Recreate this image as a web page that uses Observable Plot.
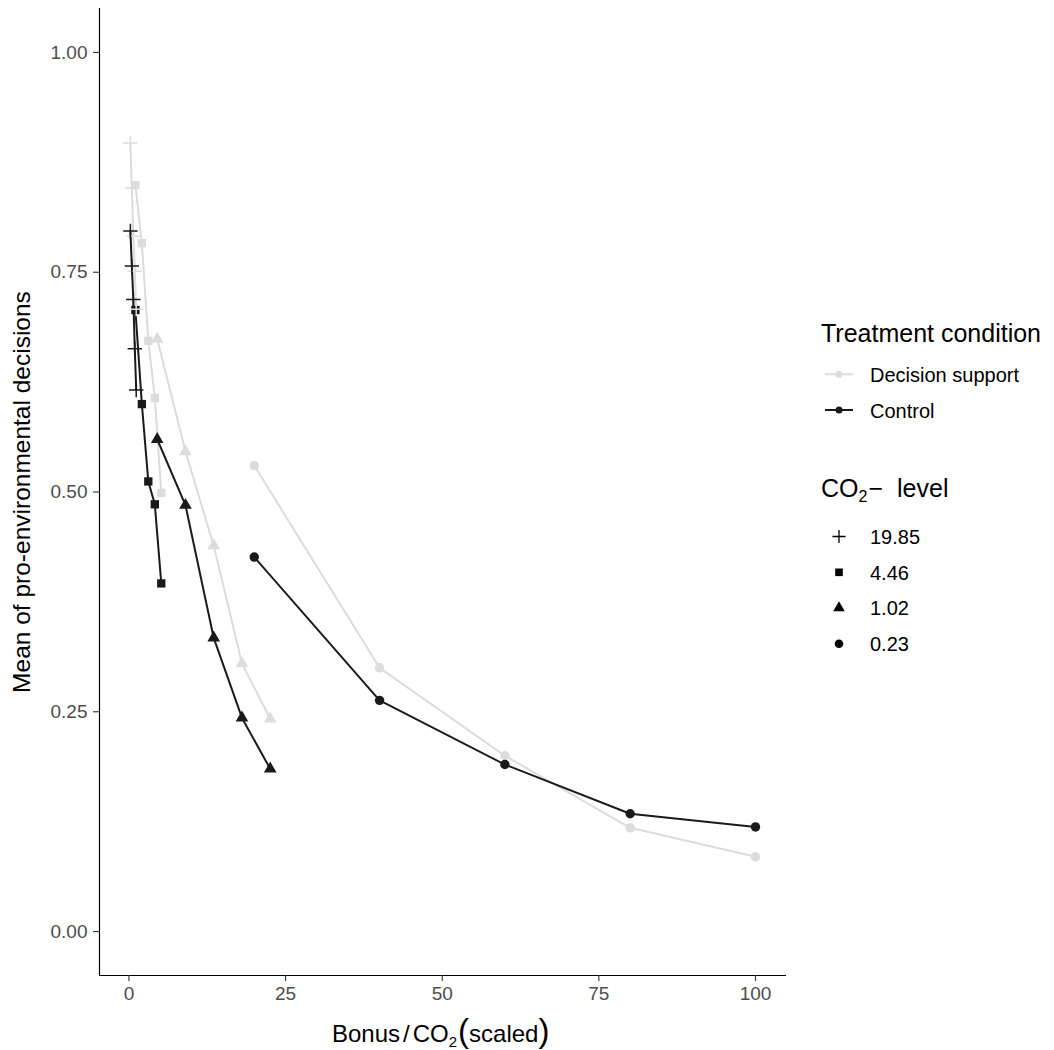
<!DOCTYPE html>
<html><head><meta charset="utf-8">
<script src="https://cdn.jsdelivr.net/npm/d3@7"></script>
<script src="https://cdn.jsdelivr.net/npm/@observablehq/plot@0.6"></script>
<style>
html,body{margin:0;padding:0;background:#fff;}
#chart{width:1054px;height:1050px;}
</style></head><body><div id="chart"></div>
<script>
// ---- data ----
const treatments = ["Decision support", "Control"];
const co2Levels = ["19.85", "4.46", "1.02", "0.23"];
const xTicks = [0, 25, 50, 75, 100];
const yTicks = [0, 0.25, 0.5, 0.75, 1];

const x_19_85 = [0.23, 0.46, 0.70, 0.93, 1.16];
const x_4_46 = [1.03, 2.06, 3.09, 4.13, 5.16];
const x_1_02 = [4.51, 9.02, 13.53, 18.04, 22.55];
const x_0_23 = [20, 40, 60, 80, 100];

const ds_19_85 = [0.897, 0.846, 0.791, 0.751, 0.708];
const ds_4_46 = [0.849, 0.783, 0.672, 0.607, 0.499];
const ds_1_02 = [0.674, 0.546, 0.439, 0.305, 0.242];
const ds_0_23 = [0.530, 0.300, 0.200, 0.118, 0.085];

const ctrl_19_85 = [0.797, 0.757, 0.719, 0.663, 0.616];
const ctrl_4_46 = [0.707, 0.600, 0.512, 0.486, 0.396];
const ctrl_1_02 = [0.560, 0.485, 0.334, 0.243, 0.185];
const ctrl_0_23 = [0.426, 0.263, 0.190, 0.134, 0.119];

// ---- table ----
const xsByLevel = [x_19_85, x_4_46, x_1_02, x_0_23];
const ysByTreatment = [
  [ds_19_85, ds_4_46, ds_1_02, ds_0_23],
  [ctrl_19_85, ctrl_4_46, ctrl_1_02, ctrl_0_23]
];
const rows = [];
treatments.forEach((t, ti) => {
  co2Levels.forEach((l, li) => {
    xsByLevel[li].forEach((xv, i) => {
      rows.push({treatment: t, level: l, x: xv, y: ysByTreatment[ti][li][i]});
    });
  });
});

const colors = ["#DCDCDC", "#1A1A1A"];
const symbolNames = ["plus", "square", "triangle", "circle"];
const FONT = "'Liberation Sans', Arial, Helvetica, sans-serif";
const R = 4.7;

const plot = Plot.plot({
  width: 1054, height: 1050,
  marginLeft: 99, marginRight: 268, marginTop: 8, marginBottom: 75,
  style: {fontFamily: FONT, fontSize: "19px", background: "#fff", overflow: "visible"},
  x: {domain: [-4.7, 104.95], label: null},
  y: {domain: [-0.05, 1.05], label: null},
  color: {domain: treatments, range: colors},
  symbol: {domain: co2Levels, range: symbolNames},
  marks: [
    Plot.ruleX([-4.7], {stroke: "#000", strokeWidth: 1.2}),
    Plot.ruleY([-0.05], {stroke: "#000", strokeWidth: 1.2}),
    Plot.axisX({ticks: xTicks, tickSize: 6, tickPadding: 5, stroke: "#333", fill: "#4D4D4D",
      strokeWidth: 1.1, fontSize: 19, label: null}),
    Plot.axisY({ticks: yTicks, tickFormat: d3.format(".2f"), tickSize: 6, tickPadding: 6,
      stroke: "#333", fill: "#4D4D4D", strokeWidth: 1.1, fontSize: 19, label: null}),
    Plot.line(rows, {x: "x", y: "y", z: d => d.treatment + "|" + d.level, stroke: "treatment", strokeWidth: 2}),
    Plot.dot(rows.filter(d => d.level !== "19.85"), {x: "x", y: "y", symbol: "level", fill: "treatment", stroke: "none", r: R}),
    Plot.dot(rows.filter(d => d.level === "19.85"), {x: "x", y: "y", symbol: "level", stroke: "treatment", fill: "none", r: R, strokeWidth: 1.5}),
    Plot.text(["Mean of pro-environmental decisions"], {text: d => d, frameAnchor: "left", textAnchor: "middle", dx: -77, rotate: -90, fontSize: 24.5, fill: "#000"})
  ]
});

document.getElementById("chart").appendChild(plot);

// ---- x axis title with subscript ----
const svg = d3.select(plot);
const xt = svg.append("text").attr("x", 440.7).attr("y", 1042.3).attr("text-anchor", "middle")
  .attr("font-family", FONT).attr("font-size", 24).attr("fill", "#000");
xt.append("tspan").text("Bonus");
xt.append("tspan").attr("dx", 3).text("/");
xt.append("tspan").attr("dx", 3).text("CO");
xt.append("tspan").attr("font-size", 15).attr("dy", 5).text("2");
xt.append("tspan").attr("font-size", 33).attr("dy", -5).attr("dx", 1).text("(");
xt.append("tspan").text("scaled");
xt.append("tspan").attr("font-size", 33).text(")");

// ---- legend ----
const lg = svg.append("g").attr("font-family", FONT).attr("fill", "#000").attr("text-anchor", "start");
lg.append("text").attr("x", 821).attr("y", 341.7).attr("font-size", 25).text("Treatment condition");
const tY = [374.3, 410];
treatments.forEach((t, i) => {
  lg.append("line").attr("x1", 825).attr("x2", 853).attr("y1", tY[i]).attr("y2", tY[i])
    .attr("stroke", colors[i]).attr("stroke-width", 2);
  lg.append("circle").attr("cx", 839).attr("cy", tY[i]).attr("r", 3.5).attr("fill", colors[i]);
  lg.append("text").attr("x", 870).attr("y", tY[i] + 7.6).attr("font-size", 20).text(t);
});

const ct = lg.append("text").attr("x", 821).attr("y", 497.3).attr("font-size", 25);
ct.append("tspan").text("CO");
ct.append("tspan").attr("font-size", 16).attr("dy", 5).text("2");
ct.append("tspan").attr("dy", -5).attr("dx", 1).text("\u2212");
ct.append("tspan").attr("dx", 14).text("level");

const d3sym = {plus: d3.symbolPlus, square: d3.symbolSquare, triangle: d3.symbolTriangle, circle: d3.symbolCircle};
const sY = [536.5, 572.3, 608, 643.7];
co2Levels.forEach((l, i) => {
  const name = symbolNames[i];
  const p = lg.append("path").attr("transform", `translate(839,${sY[i]})`)
    .attr("d", d3.symbol(d3sym[name], Math.PI * 4.3 * 4.3)());
  if (name === "plus") p.attr("fill", "none").attr("stroke", "#000").attr("stroke-width", 1.3);
  else p.attr("fill", "#000");
  lg.append("text").attr("x", 870).attr("y", sY[i] + 7.2).attr("font-size", 20).text(l);
});
</script>
</body></html>
